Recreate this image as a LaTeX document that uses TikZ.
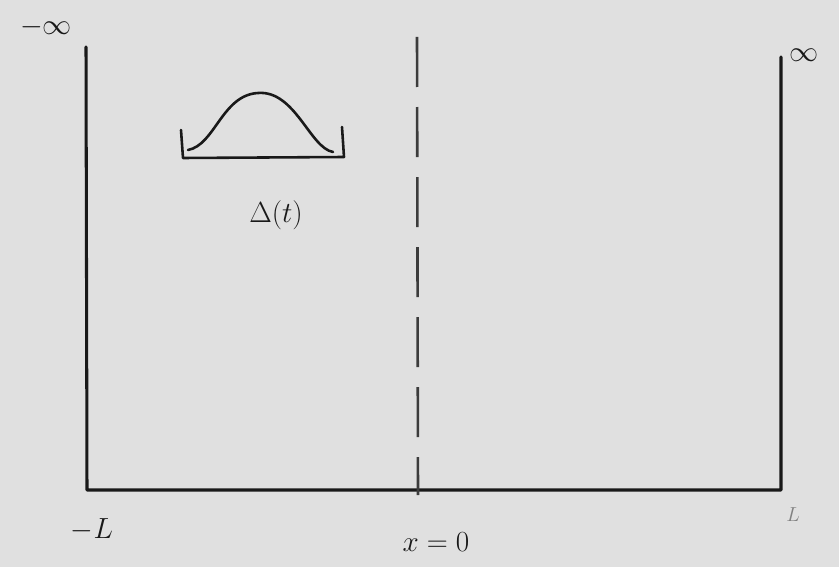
\documentclass[tikz,border=0pt]{standalone}
\usepackage{fontspec}
\setmainfont{DejaVu Sans}
\definecolor{bg}{RGB}{224,224,224}
\definecolor{ink}{RGB}{25,25,25}
\begin{document}
\begin{tikzpicture}[x=0.03cm,y=-0.03cm,
  wall/.style={draw=ink,line width=2.6pt,line join=round,line cap=round},
  dashline/.style={draw=ink!85,line width=2.2pt,dash pattern=on 1.5cm off 0.6cm},
  lbl/.style={inner sep=0pt,text=ink,font=\fontsize{30}{34}\selectfont}]
\fill[bg] (0,0) rectangle (839,567);
\useasboundingbox (0,0) rectangle (839,567);
% box
\coordinate (tl) at (86,47);
\coordinate (bl) at (87,490);
\coordinate (br) at (781,490);
\coordinate (tr) at (781,57);
\draw[wall] (tl) -- (bl) -- (br) -- (tr);
% dashed centre line
\coordinate (dtop) at (417,37);
\coordinate (dbot) at (418,495);
\draw[dashline] (dtop) -- (dbot);
% bump with bracket
\coordinate (b1) at (181,130);
\coordinate (b2) at (183,158);
\coordinate (b3) at (344,157);
\coordinate (b4) at (342,127);
\draw[wall,line width=2.2pt] (b1) -- (b2) -- (b3) -- (b4);
\coordinate (c1) at (188,150);
\coordinate (c2) at (258,93);
\coordinate (c3) at (333,152);
\draw[wall,line width=2.2pt] (c1) .. controls (215,145) and (222,95) .. (c2)
  .. controls (295,90) and (310,148) .. (c3);
% labels
\node[lbl] (delta) at (276,215) {$\Delta(t)$};
\node[lbl] (minf) at (46,27) {$-\infty$};
\node[lbl] (pinf) at (804,55) {$\infty$};
\node[lbl] (mL) at (92,530) {$-L$};
\node[lbl] (x0) at (436,542) {$x=0$};
\node[lbl,text=ink!55,font=\fontsize{18}{20}\selectfont] (L) at (793,515) {$L$};
\end{tikzpicture}
\end{document}
